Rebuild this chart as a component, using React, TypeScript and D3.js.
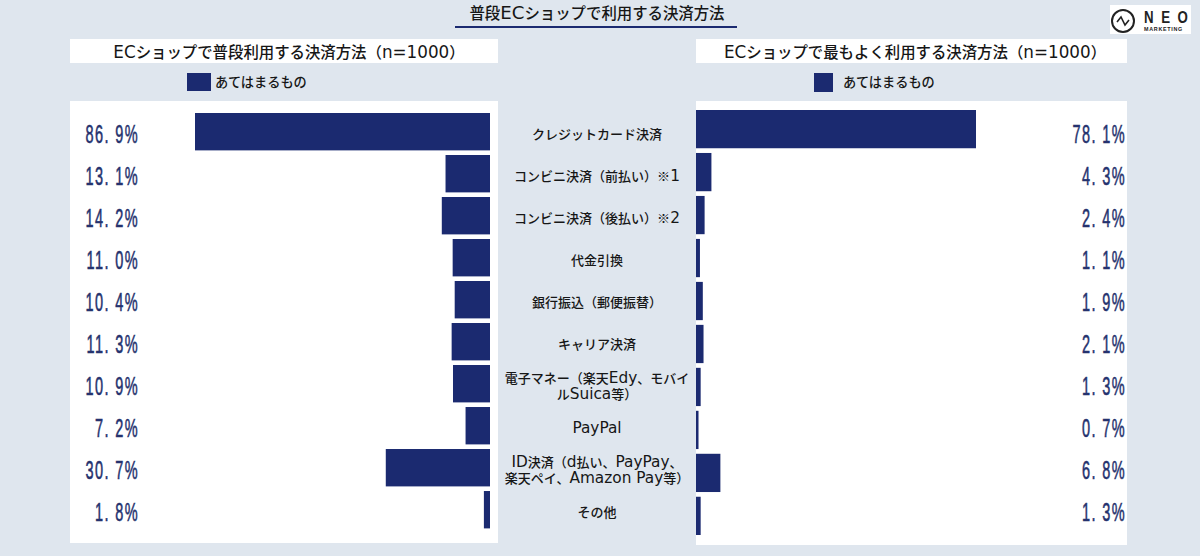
import React from "react";
import * as d3 from "d3";

const categories = [
  ["クレジットカード決済"],
  ["コンビニ決済（前払い）※1"],
  ["コンビニ決済（後払い）※2"],
  ["代金引換"],
  ["銀行振込（郵便振替）"],
  ["キャリア決済"],
  ["電子マネー（楽天Edy、モバイ", "ルSuica等）"],
  ["PayPal"],
  ["ID決済（d払い、PayPay、", "楽天ペイ、Amazon Pay等）"],
  ["その他"],
];
const usual = [86.9, 13.1, 14.2, 11.0, 10.4, 11.3, 10.9, 7.2, 30.7, 1.8];
const most = [78.1, 4.3, 2.4, 1.1, 1.9, 2.1, 1.3, 0.7, 6.8, 1.3];
const title = "普段ECショップで利用する決済方法";
const leftTitle = "ECショップで普段利用する決済方法（n=1000）";
const rightTitle = "ECショップで最もよく利用する決済方法（n=1000）";
const legend = "あてはまるもの";

const NAVY = "#1b2a70";
const INK = "#161616";
const FONT = "'Noto Sans CJK JP', 'Noto Sans', sans-serif";
const LATIN = "'DejaVu Sans', sans-serif";

const idx = d3.range(categories.length);
const xL = d3.scaleLinear().domain([0, 86.9]).range([490, 195]);
const xR = d3.scaleLinear().domain([0, 78.1]).range([696, 976]);
const yL = d3.scaleBand<number>().domain(idx).range([113, 528.4]).paddingInner(0.11).paddingOuter(0);
const yR = d3.scaleBand<number>().domain(idx).range([110, 535]).paddingInner(0.11).paddingOuter(0);
const yLabel = d3.scalePoint<number>().domain(idx).range([134, 512]);
const fmt = (v: number) => v.toFixed(1).replace(".", ". ") + "%";

function runs(s: string, size: number, factor = 1.18) {
  return s.split(/([A-Za-z0-9=]+(?: [A-Za-z0-9=]+)*)/).filter(Boolean).map((p, i) =>
    /^[A-Za-z0-9=]/.test(p)
      ? <tspan key={i} fontFamily={LATIN} fontSize={size * factor}>{p}</tspan>
      : <tspan key={i}>{p}</tspan>
  );
}

function Mixed({ x, y, s, size, anchor = "middle", factor = 1.18 }: { x: number; y: number; s: string; size: number; anchor?: string; factor?: number }) {
  return (
    <text x={x} y={y + size * 0.36} textAnchor={anchor as any} fontFamily={FONT} fontSize={size} fontWeight={500} fill={INK}>
      {runs(s, size, factor)}
    </text>
  );
}

function Value({ x, y, v }: { x: number; y: number; v: number }) {
  return (
    <text transform={`translate(${x},${y + 9}) scale(0.58,1)`} textAnchor="end"
      fontFamily="'Liberation Sans Narrow','Liberation Sans',sans-serif" fontSize={25} letterSpacing={2.4}
      fill="#25326e" stroke="#25326e" strokeWidth={0.55}>
      {fmt(v)}
    </text>
  );
}

export default function App() {
  return (
    <svg width={1200} height={556} viewBox="0 0 1200 556"
      style={{ position: "fixed", left: 0, top: 0, display: "block", background: "#dfe6ee" }}>
      <Mixed x={597} y={13} s={title} size={15.4} />
      <line x1={455} x2={737} y1={27} y2={27} stroke={NAVY} strokeWidth={2} />

      <rect x={70} y={39} width={428} height={24} fill="#fff" />
      <rect x={696} y={39} width={431} height={24} fill="#fff" />
      <Mixed x={289} y={52} s={leftTitle} size={15.4} factor={1.09} />
      <Mixed x={915} y={52} s={rightTitle} size={15.4} factor={1.09} />

      <rect x={187} y={73} width={24} height={18} fill={NAVY} />
      <Mixed x={215} y={82} s={legend} size={13.2} anchor="start" />
      <rect x={814} y={73} width={19} height={19} fill={NAVY} />
      <Mixed x={843} y={82} s={legend} size={13.2} anchor="start" />

      <rect x={70} y={101} width={428} height={442} fill="#fff" />
      <rect x={696} y={101} width={431} height={444} fill="#fff" />

      {idx.map((i) => (
        <g key={i}>
          <rect x={xL(usual[i])} y={yL(i)} width={xL(0) - xL(usual[i])} height={yL.bandwidth()} fill={NAVY} />
          <rect x={xR(0)} y={yR(i)} width={xR(most[i]) - xR(0)} height={yR.bandwidth()} fill={NAVY} />
          <Value x={139} y={yLabel(i)!} v={usual[i]} />
          <Value x={1126} y={yLabel(i)!} v={most[i]} />
          <text textAnchor="middle" fontFamily={FONT} fontSize={13} fontWeight={500} fill={INK}>
            {categories[i].map((line, k) => (
              <tspan key={k} x={597} y={yLabel(i)! + 5.2 + (k - (categories[i].length - 1) / 2) * 15.5}>
                {runs(line, 13)}
              </tspan>
            ))}
          </text>
        </g>
      ))}

      <rect x={1110} y={5} width={81} height={29} fill="#fff" />
      <circle cx={1123} cy={21} r={11} fill="none" stroke="#222" strokeWidth={2} />
      <path d={d3.line()([[1117, 22], [1121, 17], [1125, 25], [1129, 20]])!} fill="none" stroke="#222" strokeWidth={1.6} />
      <text transform="translate(1144,22.5) scale(0.78,1)" x="0 22 43" fontFamily="'Liberation Sans',sans-serif" fontWeight={700} fontSize={17} fill="#222">NEO</text>
      <text x={1144} y={31} fontFamily="'Liberation Sans',sans-serif" fontWeight={700} fontSize={5.4} letterSpacing={0.7} fill="#222">MARKETING</text>
    </svg>
  );
}
